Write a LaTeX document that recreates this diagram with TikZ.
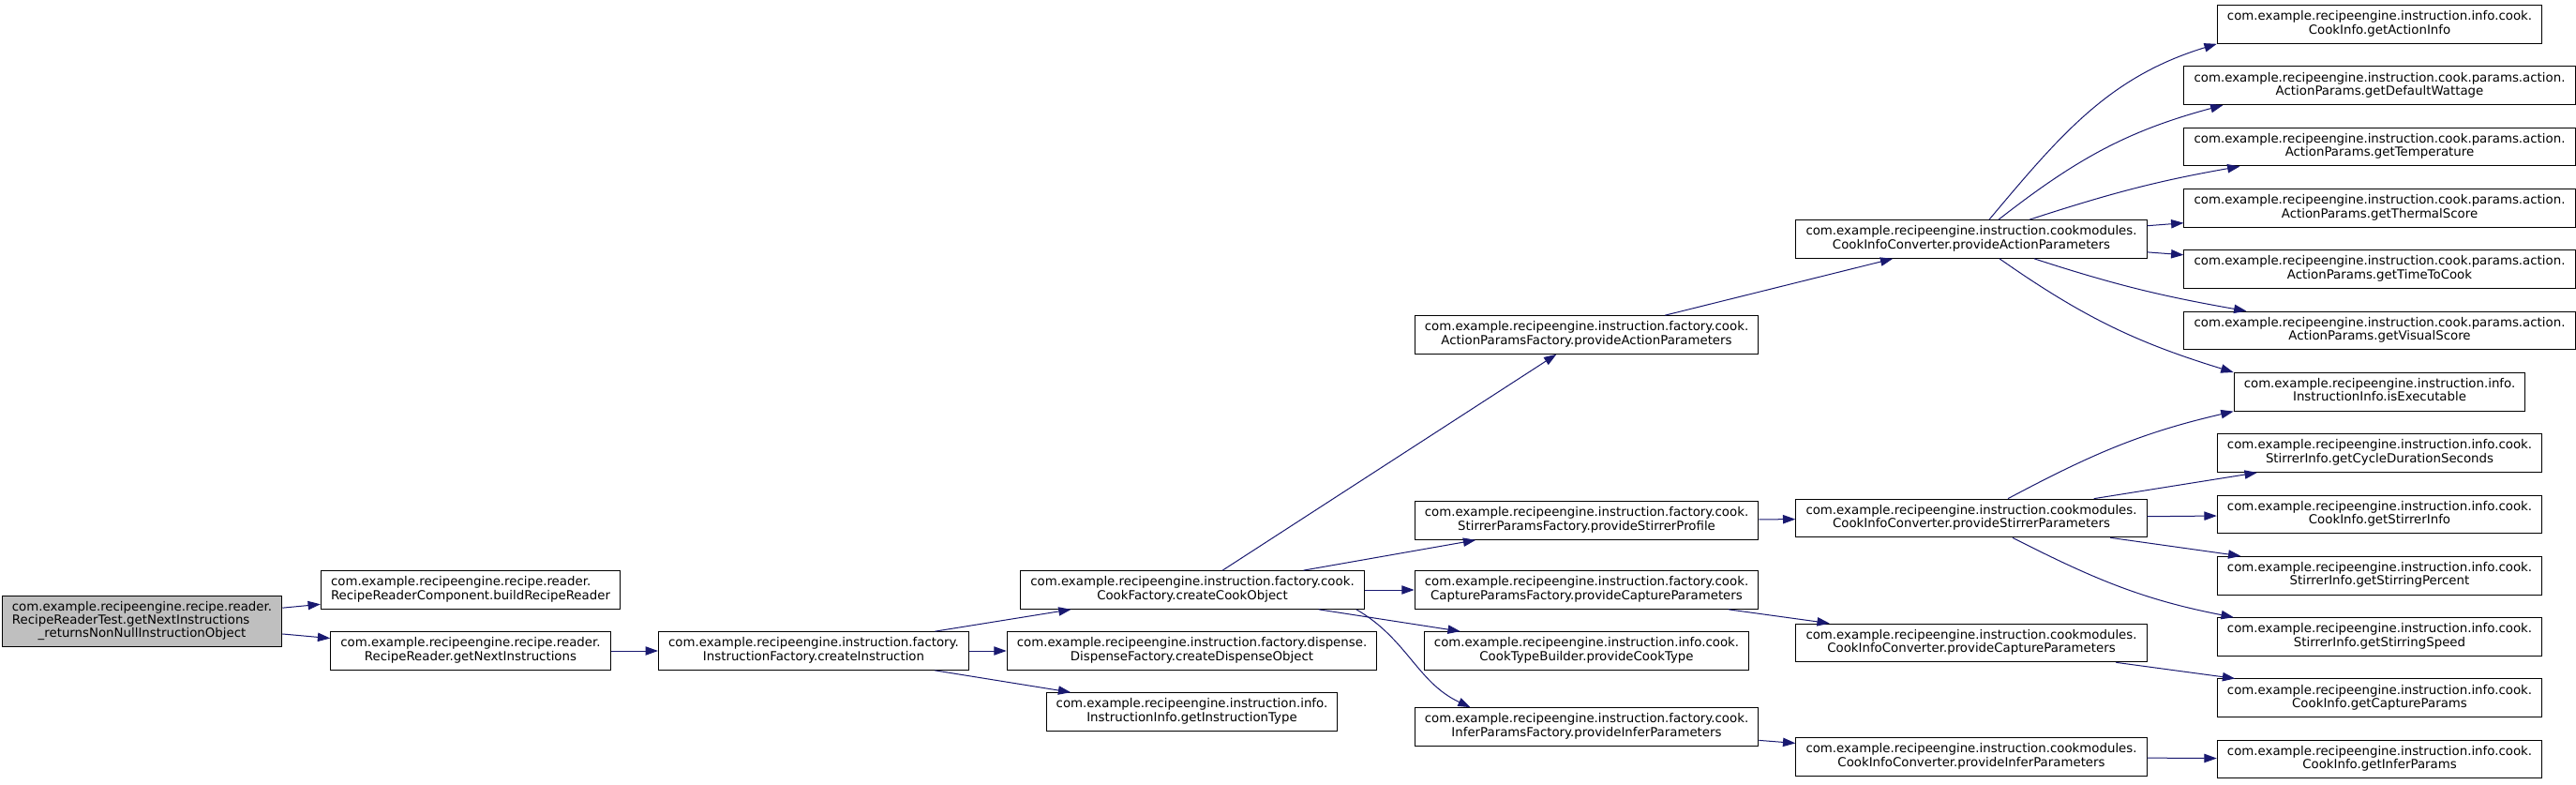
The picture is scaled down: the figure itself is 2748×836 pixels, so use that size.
\documentclass[tikz,border=0pt]{standalone}
\usepackage{fontspec}
\setmainfont{DejaVu Sans}
\usepackage{tikz}
\usetikzlibrary{arrows.meta,calc}
\definecolor{midnightblue}{RGB}{25,25,112}
\definecolor{greyfill}{RGB}{191,191,191}
\newcommand{\twoline}[2]{\begin{tabular}{@{}l@{}}#1\\\multicolumn{1}{@{}c@{}}{#2}\end{tabular}}
\newcommand{\threeline}[3]{\begin{tabular}{@{}l@{}}#1\\#2\\\multicolumn{1}{@{}c@{}}{#3}\end{tabular}}

\begin{document}
\begin{tikzpicture}[x=0.75pt,y=0.75pt,
        fn/.style={draw=black, line width=0.75pt, fill=white, inner xsep=8pt, inner ysep=4.5pt,
            font={\fontsize{10}{10.5}\selectfont}},
        testfn/.style={fn, fill=greyfill},
        call/.style={draw=midnightblue, line width=0.75pt, -{Triangle[length=10pt,width=7pt]}}]
                \useasboundingbox (0,0) rectangle (2748,836);
                % callers
                \node[testfn] (test) at (151.5,173.5) {\threeline{com.example.recipeengine.recipe.reader.}{RecipeReaderTest.getNextInstructions}{\_returnsNonNullInstructionObject}};
                \node[fn] (build) at (502,207) {\twoline{com.example.recipeengine.recipe.reader.}{RecipeReaderComponent.buildRecipeReader}};
                \node[fn] (next) at (502,142) {\twoline{com.example.recipeengine.recipe.reader.}{RecipeReader.getNextInstructions}};
                \node[fn] (mkinstr) at (868,142) {\twoline{com.example.recipeengine.instruction.factory.}{InstructionFactory.createInstruction}};
                \node[fn] (cook) at (1272,207) {\twoline{com.example.recipeengine.instruction.factory.cook.}{CookFactory.createCookObject}};
                \node[fn] (dispense) at (1271.5,142) {\twoline{com.example.recipeengine.instruction.factory.dispense.}{DispenseFactory.createDispenseObject}};
                \node[fn] (insttype) at (1271.5,77) {\twoline{com.example.recipeengine.instruction.info.}{InstructionInfo.getInstructionType}};
                % factories
                \node[fn] (actfac) at (1692.5,479) {\twoline{com.example.recipeengine.instruction.factory.cook.}{ActionParamsFactory.provideActionParameters}};
                \node[fn] (stirfac) at (1692.5,281) {\twoline{com.example.recipeengine.instruction.factory.cook.}{StirrerParamsFactory.provideStirrerProfile}};
                \node[fn] (capfac) at (1692.5,207) {\twoline{com.example.recipeengine.instruction.factory.cook.}{CaptureParamsFactory.provideCaptureParameters}};
                \node[fn] (cooktype) at (1692.5,142) {\twoline{com.example.recipeengine.instruction.info.cook.}{CookTypeBuilder.provideCookType}};
                \node[fn] (inferfac) at (1692.5,61) {\twoline{com.example.recipeengine.instruction.factory.cook.}{InferParamsFactory.provideInferParameters}};
                % converters
                \node[fn] (cicact) at (2103,581) {\twoline{com.example.recipeengine.instruction.cookmodules.}{CookInfoConverter.provideActionParameters}};
                \node[fn] (cicstir) at (2103,283.5) {\twoline{com.example.recipeengine.instruction.cookmodules.}{CookInfoConverter.provideStirrerParameters}};
                \node[fn] (ciccap) at (2103,150.5) {\twoline{com.example.recipeengine.instruction.cookmodules.}{CookInfoConverter.provideCaptureParameters}};
                \node[fn] (cicinf) at (2103,29) {\twoline{com.example.recipeengine.instruction.cookmodules.}{CookInfoConverter.provideInferParameters}};
                % getters
                \node[fn] (actinfo) at (2538.5,810) {\twoline{com.example.recipeengine.instruction.info.cook.}{CookInfo.getActionInfo}};
                \node[fn] (defwatt) at (2538.5,744.7) {\twoline{com.example.recipeengine.instruction.cook.params.action.}{ActionParams.getDefaultWattage}};
                \node[fn] (temp) at (2538.5,679.4) {\twoline{com.example.recipeengine.instruction.cook.params.action.}{ActionParams.getTemperature}};
                \node[fn] (thermal) at (2538.5,614.1) {\twoline{com.example.recipeengine.instruction.cook.params.action.}{ActionParams.getThermalScore}};
                \node[fn] (ttc) at (2538.5,548.8) {\twoline{com.example.recipeengine.instruction.cook.params.action.}{ActionParams.getTimeToCook}};
                \node[fn] (visual) at (2538.5,483.5) {\twoline{com.example.recipeengine.instruction.cook.params.action.}{ActionParams.getVisualScore}};
                \node[fn] (isexec) at (2538.5,418.2) {\twoline{com.example.recipeengine.instruction.info.}{InstructionInfo.isExecutable}};
                \node[fn] (cycle) at (2538.5,352.9) {\twoline{com.example.recipeengine.instruction.info.cook.}{StirrerInfo.getCycleDurationSeconds}};
                \node[fn] (stirinfo) at (2538.5,287.6) {\twoline{com.example.recipeengine.instruction.info.cook.}{CookInfo.getStirrerInfo}};
                \node[fn] (percent) at (2538.5,222.3) {\twoline{com.example.recipeengine.instruction.info.cook.}{StirrerInfo.getStirringPercent}};
                \node[fn] (speed) at (2538.5,157) {\twoline{com.example.recipeengine.instruction.info.cook.}{StirrerInfo.getStirringSpeed}};
                \node[fn] (capparams) at (2538.5,91.7) {\twoline{com.example.recipeengine.instruction.info.cook.}{CookInfo.getCaptureParams}};
                \node[fn] (inferparams) at (2538.5,26.4) {\twoline{com.example.recipeengine.instruction.info.cook.}{CookInfo.getInferParams}};
                % calls
                \draw[call] (test) -- (build);
                \draw[call] (test) -- (next);
                \draw[call] (next) -- (mkinstr);
                \draw[call] (mkinstr) -- (cook);
                \draw[call] (mkinstr) -- (dispense);
                \draw[call] (mkinstr) -- (insttype);
                \draw[call] (cook) -- (actfac);
                \draw[call] (cook) -- (stirfac);
                \draw[call] (cook) -- (capfac);
                \draw[call] (cook) -- (cooktype);
                \draw[call] ($(cook.south east)+(-9,0)$) to[out=-30,in=155] ($(inferfac.north west)+(60,0)$);
                \draw[call] (actfac) -- (cicact);
                \draw[call] (stirfac) -- (cicstir);
                \draw[call] (capfac) -- (ciccap);
                \draw[call] (inferfac) -- (cicinf);
                \draw[call] ($(cicact.north)+(19,0)$) to[out=50,in=-163] (actinfo.south west);
                \draw[call] ($(cicact.north)+(29,0)$) to[out=38,in=-165] ($(defwatt.south west)+(42,0)$);
                \draw[call] ($(cicact.north)+(62,0)$) to[out=18,in=-170] ($(temp.south west)+(60,0)$);
                \draw[call] (cicact) -- (thermal);
                \draw[call] (cicact) -- (ttc);
                \draw[call] ($(cicact.south)+(67,0)$) to[out=-18,in=170] ($(visual.north west)+(67,0)$);
                \draw[call] ($(cicact.south)+(30,0)$) to[out=-35,in=163] (isexec.north west);
                \draw[call] ($(cicstir.north)+(39,0)$) to[out=28,in=-167] (isexec.south west);
                \draw[call] (cicstir) -- (cycle);
                \draw[call] (cicstir) -- (stirinfo);
                \draw[call] (cicstir) -- (percent);
                \draw[call] ($(cicstir.south)+(44,0)$) to[out=-27,in=169] ($(speed.north west)+(18,0)$);
                \draw[call] (ciccap) -- (capparams);
                \draw[call] (cicinf) -- (inferparams);
\end{tikzpicture}
\end{document}
